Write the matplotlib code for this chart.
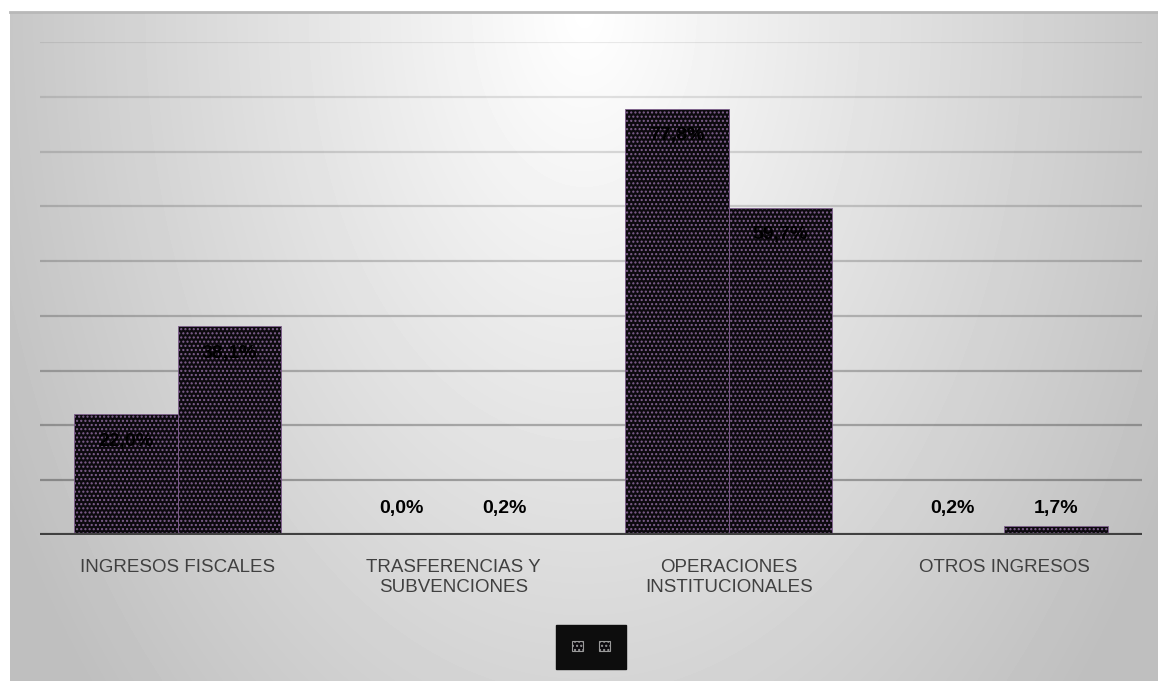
import numpy as np
import matplotlib
matplotlib.use("Agg")
import matplotlib.pyplot as plt
from matplotlib.patches import Patch

# data
categories = ["INGRESOS FISCALES", "TRASFERENCIAS Y\nSUBVENCIONES",
              "OPERACIONES\nINSTITUCIONALES", "OTROS INGRESOS"]
serie_1 = [22.0, 0.0, 77.8, 0.2]
serie_2 = [38.1, 0.2, 59.7, 1.7]
y_ticks = [0, 10, 20, 30, 40, 50, 60, 70, 80, 90]

W, H = 1158, 681
fig = plt.figure(figsize=(W / 100, H / 100), dpi=100)
fig.patch.set_facecolor("white")

# panel background with radial-ish gradient
bg = fig.add_axes([10 / W, 0, 1 - 10 / W, (H - 12) / H], zorder=0)
xx, yy = np.meshgrid(np.arange(W - 10), np.arange(H - 12))
dx = (xx - 574) / 574
dy = yy / 669
drop = np.clip(np.sqrt((56 * dx) ** 2 + (42 * dy) ** 2), 0, 64)
grad = (255 - drop) / 255
bg.imshow(grad, cmap="gray", vmin=0, vmax=1, aspect="auto", interpolation="bilinear")
bg.set_axis_off()
fig.add_artist(plt.Line2D([10 / W, 1], [(H - 12) / H] * 2, color="#b8b8b8", lw=2,
                          transform=fig.transFigure))

ax = fig.add_axes([40 / W, (H - 535) / H, (1142 - 40) / W, (535 - 42) / H], zorder=1)
ax.patch.set_alpha(0)

x = np.arange(len(categories))
bw = 0.375
style = dict(color="#0c0a0e", edgecolor="#80608f", hatch="....", linewidth=0.6, zorder=3)
b1 = ax.bar(x - bw / 2, serie_1, bw, **style)
b2 = ax.bar(x + bw / 2, serie_2, bw, **style)

ax.set_ylim(0, 90)
ax.set_xlim(-0.5, len(categories) - 0.5)

# gridlines, fainter toward the top
for t in y_ticks[1:]:
    a = 0.30 - 0.22 * (t - 10) / 80
    ax.axhline(t, color="black", alpha=a, lw=1.6, zorder=1)
ax.axhline(0, color="#404040", lw=3, zorder=4)

for s in ax.spines.values():
    s.set_visible(False)
ax.set_yticks([])
ax.set_xticks(x)
ax.set_xticklabels(categories, fontsize=13.5, color="#404040", family="Liberation Sans",
                   linespacing=1.25)
ax.tick_params(axis="x", length=0, pad=17)

# value labels
for bars, vals in ((b1, serie_1), (b2, serie_2)):
    for bar, v in zip(bars, vals):
        lbl = f"{v:.1f}%".replace(".", ",")
        cx = bar.get_x() + bar.get_width() / 2
        if v > 5:
            ax.annotate(lbl, (cx, v), xytext=(0, -27), textcoords="offset pixels",
                        ha="center", va="center", fontsize=14, fontweight="bold",
                        color="black", family="Liberation Sans", zorder=5)
        else:
            ax.annotate(lbl, (cx, 0), xytext=(0, 27), textcoords="offset pixels",
                        ha="center", va="center", fontsize=14, fontweight="bold",
                        color="black", family="Liberation Sans", zorder=5)

# legend without labels
handles = [Patch(facecolor="#0c0a0e", edgecolor="#9a9a9a", hatch="....", linewidth=0.8),
           Patch(facecolor="#0c0a0e", edgecolor="#9a9a9a", hatch="....", linewidth=0.8)]
leg = fig.legend(handles, ["", ""], loc="center", bbox_to_anchor=(591 / W, 1 - 647 / H),
                 ncol=2, frameon=True, facecolor="#0d0d0d", edgecolor="#0d0d0d",
                 framealpha=1, handlelength=0.8, handleheight=0.8, handletextpad=0,
                 columnspacing=1.2, borderpad=1.1, fancybox=False)

fig.savefig("out.png", dpi=100)
